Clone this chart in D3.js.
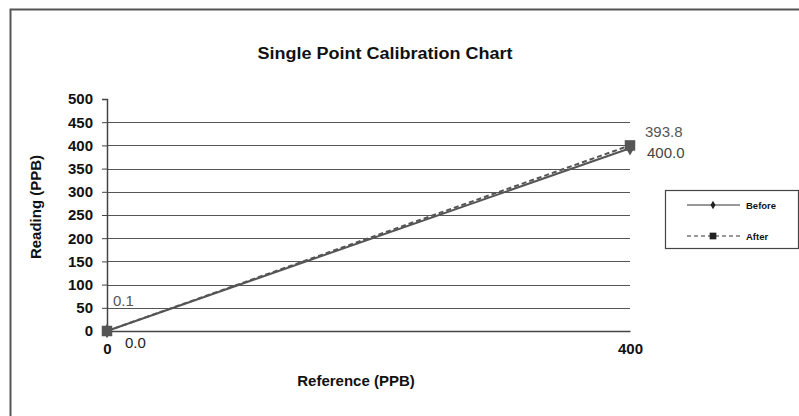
<!DOCTYPE html>
<html>
<head>
<meta charset="utf-8">
<script src="https://cdn.jsdelivr.net/npm/d3@7"></script>
<style>
  body { margin: 0; background: #fff; }
  text { font-family: "Liberation Sans", Arial, sans-serif; }
</style>
</head>
<body>
<div id="chart"></div>
<script>
// chart values
const seriesNames = ["Before", "After"];
const refValues = [0, 400];
const beforeReadings = [0.1, 393.8];
const afterReadings = [0.0, 400.0];
const yTickValues = [0, 50, 100, 150, 200, 250, 300, 350, 400, 450, 500];
const xTickValues = [0, 400];

const width = 799, height = 416;
const margin = {left: 107, right: 169, top: 99, bottom: 85};

const svg = d3.select("#chart").append("svg")
  .attr("width", width)
  .attr("height", height);

svg.append("rect").attr("width", width).attr("height", height).attr("fill", "#fff");

// outer frame (only top and left show in the picture)
svg.append("path")
  .attr("d", `M10.5,${height} V9.5 H${width}`)
  .attr("fill", "none").attr("stroke", "#555").attr("stroke-width", 2);

const x = d3.scaleLinear().domain([0, 400]).range([margin.left, width - margin.right]);
const y = d3.scaleLinear().domain([0, 500]).range([height - margin.bottom, margin.top]);

// gridlines
svg.append("g")
  .selectAll("line")
  .data(yTickValues.filter(d => d > 0 && d < 500))
  .join("line")
  .attr("x1", x(0)).attr("x2", x(400))
  .attr("y1", d => Math.round(y(d)) + 0.5).attr("y2", d => Math.round(y(d)) + 0.5)
  .attr("stroke", "#555").attr("stroke-width", 1.2);

// y axis
const yAxis = svg.append("g")
  .attr("transform", `translate(${x(0)},0)`)
  .call(d3.axisLeft(y).tickValues(yTickValues).tickSize(5).tickPadding(9).tickFormat(d3.format("d")));
yAxis.select(".domain").attr("stroke", "#444").attr("stroke-width", 1.5);
yAxis.selectAll(".tick line").attr("stroke", "#444");
yAxis.selectAll(".tick text")
  .attr("font-size", 15).attr("font-weight", "bold").attr("fill", "#111")
  .attr("font-family", "'Liberation Sans', Arial, sans-serif");

// x axis
const xAxis = svg.append("g")
  .attr("transform", `translate(0,${y(0)})`)
  .call(d3.axisBottom(x).tickValues(xTickValues).tickSize(0).tickPadding(12).tickFormat(d3.format("d")));
xAxis.select(".domain").attr("stroke", "#444").attr("stroke-width", 1.5);
xAxis.selectAll(".tick text")
  .attr("font-size", 15).attr("font-weight", "bold").attr("fill", "#111")
  .attr("font-family", "'Liberation Sans', Arial, sans-serif");

// title and axis titles
svg.append("text")
  .attr("x", 385).attr("y", 59)
  .attr("text-anchor", "middle")
  .attr("font-size", 16).attr("font-weight", "bold").attr("fill", "#111")
  .attr("textLength", 255).attr("lengthAdjust", "spacingAndGlyphs")
  .text("Single Point Calibration Chart");

svg.append("text")
  .attr("transform", "translate(41,207) rotate(-90)")
  .attr("text-anchor", "middle")
  .attr("font-size", 15).attr("font-weight", "bold").attr("fill", "#111")
  .text("Reading (PPB)");

svg.append("text")
  .attr("x", 356).attr("y", 386)
  .attr("text-anchor", "middle")
  .attr("font-size", 15).attr("font-weight", "bold").attr("fill", "#111")
  .text("Reference (PPB)");

// series
const series = [
  {name: seriesNames[0], values: beforeReadings, dash: null, marker: "diamond"},
  {name: seriesNames[1], values: afterReadings, dash: "5,3", marker: "square"}
];

const line = d3.line().x(d => x(d[0])).y(d => y(d[1]));

series.forEach(s => {
  const pts = refValues.map((r, i) => [r, s.values[i]]);
  svg.append("path")
    .datum(pts)
    .attr("d", line)
    .attr("fill", "none")
    .attr("stroke", "#555")
    .attr("stroke-width", 2)
    .attr("stroke-dasharray", s.dash);
  const sym = s.marker === "square" ? d3.symbolSquare : d3.symbolDiamond;
  const size = s.marker === "square" ? 110 : 60;
  svg.append("g").selectAll("path")
    .data(pts)
    .join("path")
    .attr("transform", d => `translate(${x(d[0])},${y(d[1])})`)
    .attr("d", d3.symbol(sym, size))
    .attr("fill", "#555");
});

// data labels
const fmt = d3.format(".1f");
const beforeOffsets = [[6, -25], [15, -11]];
const afterOffsets = [[18, 17], [17, 13]];
refValues.forEach((r, i) => {
  svg.append("text")
    .attr("x", x(r) + beforeOffsets[i][0]).attr("y", y(beforeReadings[i]) + beforeOffsets[i][1])
    .attr("font-size", 15).attr("fill", "#555")
    .text(fmt(beforeReadings[i]));
  svg.append("text")
    .attr("x", x(r) + afterOffsets[i][0]).attr("y", y(afterReadings[i]) + afterOffsets[i][1])
    .attr("font-size", 15).attr("fill", i === 0 ? "#222" : "#444")
    .text(fmt(afterReadings[i]));
});

// legend
const lg = svg.append("g").attr("transform", "translate(665,190)");
lg.append("rect")
  .attr("x", 0.5).attr("y", 0.5).attr("width", 133).attr("height", 58)
  .attr("fill", "#fff").attr("stroke", "#444").attr("stroke-width", 1.2);
series.forEach((s, i) => {
  const yy = 15 + i * 31;
  lg.append("line")
    .attr("x1", 22).attr("x2", 75).attr("y1", yy).attr("y2", yy)
    .attr("stroke", "#333").attr("stroke-width", 1.2)
    .attr("stroke-dasharray", s.dash ? "4,3" : null);
  const sym = s.marker === "square" ? d3.symbolSquare : d3.symbolDiamond;
  lg.append("path")
    .attr("transform", `translate(48,${yy})`)
    .attr("d", d3.symbol(sym, s.marker === "square" ? 45 : 22))
    .attr("fill", "#222");
  lg.append("text")
    .attr("x", 81).attr("y", yy + 3.5)
    .attr("font-size", 9.5).attr("font-weight", "bold").attr("fill", "#111")
    .text(s.name);
});
</script>
</body>
</html>
